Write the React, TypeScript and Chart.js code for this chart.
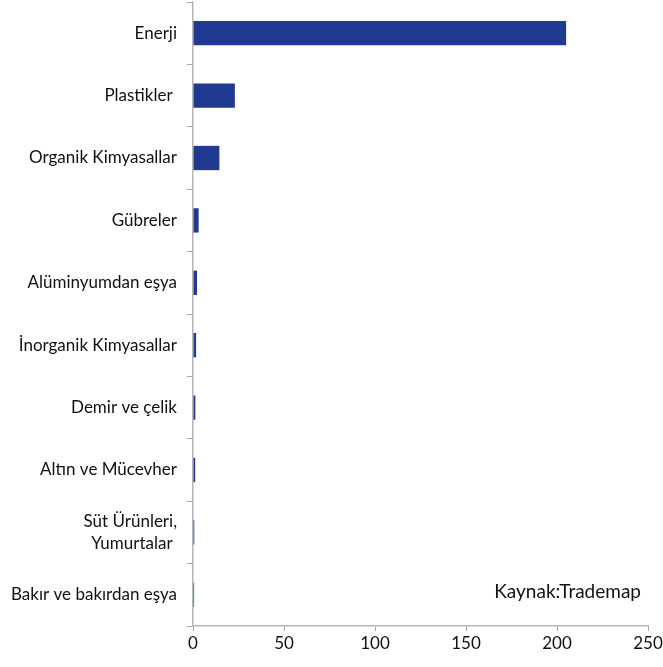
import React, { useEffect, useRef } from "react";
import { Chart, registerables } from "chart.js";

Chart.register(...registerables);

const categories: (string | string[])[] = [
  "Enerji",
  "Plastikler ",
  "Organik Kimyasallar",
  "Gübreler",
  "Alüminyumdan eşya",
  "İnorganik Kimyasallar",
  "Demir ve çelik",
  "Altın ve Mücevher",
  ["Süt Ürünleri,", "Yumurtalar "],
  "Bakır ve bakırdan eşya",
];
const values = [205, 23, 14.5, 3.1, 2.2, 1.7, 1.3, 1.2, 0.7, 0.6];
const xTicks = [0, 50, 100, 150, 200, 250];
const sourceText = "Kaynak:Trademap";

const FONT = "Lato, 'Open Sans', sans-serif";

export default function App() {
  const ref = useRef<HTMLCanvasElement | null>(null);
  useEffect(() => {
    if (!ref.current) return;
    const sourcePlugin = {
      id: "sourceText",
      afterDraw(chart: any) {
        const ctx = chart.ctx;
        ctx.save();
        ctx.font = `19px ${FONT}`;
        ctx.fillStyle = "#111";
        ctx.textAlign = "right";
        ctx.textBaseline = "middle";
        ctx.fillText(sourceText, 641, 592);
        ctx.restore();
      },
    };
    const chart = new Chart(ref.current, {
      type: "bar",
      data: {
        labels: categories,
        datasets: [
          {
            data: values,
            backgroundColor: "#203A91",
            borderWidth: 0,
            barPercentage: 0.39,
            categoryPercentage: 1,
          },
        ],
      },
      options: {
        indexAxis: "y",
        responsive: false,
        animation: false,
        layout: { padding: { top: 2, right: 15, left: 0, bottom: 0 } },
        plugins: {
          legend: { display: false },
          tooltip: { enabled: false },
        },
        scales: {
          x: {
            min: 0,
            max: 250,
            afterBuildTicks(scale: any) {
              scale.ticks = xTicks.map((v) => ({ value: v }));
            },
            afterFit(scale: any) {
              scale.height = 41;
              scale.paddingLeft = 0;
              scale.paddingRight = 0;
            },
            grid: {
              drawOnChartArea: false,
              drawTicks: true,
              tickLength: 5,
              color: "#a6a6a6",
            },
            border: { color: "#b5b5b5", width: 1.5 },
            ticks: {
              color: "#111",
              font: { family: FONT, size: 17 },
              padding: 2,
              maxRotation: 0,
            },
          },
          y: {
            afterFit(scale: any) {
              scale.width = 193;
              scale.paddingTop = 0;
              scale.paddingBottom = 0;
            },
            grid: {
              drawOnChartArea: false,
              drawTicks: true,
              tickLength: 6,
              offset: true,
              color: "#a6a6a6",
            },
            border: { color: "#b5b5b5", width: 1.5 },
            ticks: {
              color: "#111",
              font: { family: FONT, size: 17, lineHeight: 1.25 },
              padding: 10,
              autoSkip: false,
            },
          },
        },
      },
      plugins: [sourcePlugin],
    });
    return () => chart.destroy();
  }, []);
  return (
    <div style={{ position: "absolute", left: 0, top: 0, width: 663, height: 667, background: "#fff" }}>
      <canvas ref={ref} width={663} height={667} style={{ display: "block" }} />
    </div>
  );
}
